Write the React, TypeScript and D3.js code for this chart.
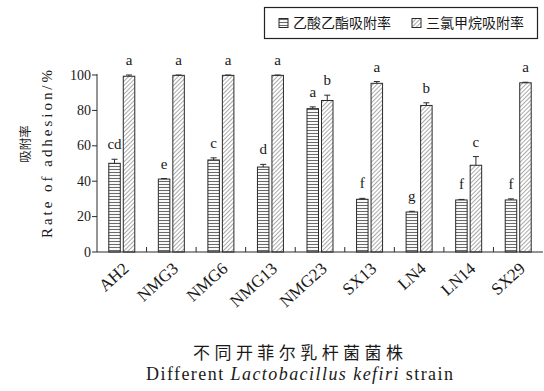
import React from "react";
import * as d3 from "d3";

const strains = ["AH2", "NMG3", "NMG6", "NMG13", "NMG23", "SX13", "LN4", "LN14", "SX29"];
const esterValues = [50.1, 41.2, 52.0, 48.0, 81.0, 29.8, 22.6, 29.4, 29.4];
const esterErrors = [2.3, 0.3, 1.2, 1.5, 1.0, 0.5, 0.4, 0.3, 0.6];
const chloroValues = [99.3, 99.8, 99.8, 99.8, 85.6, 95.3, 82.8, 49.0, 95.6];
const chloroErrors = [0.7, 0.2, 0.2, 0.2, 3.0, 1.0, 1.5, 4.9, 0.3];
const esterLetters = ["cd", "e", "c", "d", "a", "f", "g", "f", "f"];
const chloroLetters = ["a", "a", "a", "a", "b", "a", "b", "c", "a"];
const seriesKeys = ["ester", "chloro"];
const seriesNames = ["乙酸乙酯吸附率", "三氯甲烷吸附率"];
const yTicks = [0, 20, 40, 60, 80, 100];

const W = 544;
const H = 391;
const SERIF = "'Liberation Serif', 'Times New Roman', 'Noto Sans CJK SC', serif";
const CJK = "'Noto Sans CJK SC', sans-serif";

export default function App() {
  const left = 97;
  const right = 543;
  const top = 75;
  const bottom = 252;

  const x = d3.scaleBand<string>().domain(strains).range([left, right]).padding(0);
  const bw = x.bandwidth();
  const x1 = d3
    .scaleBand<string>()
    .domain(seriesKeys)
    .range([bw / 2 - 13, bw / 2 + 13])
    .paddingInner(0.207);
  const y = d3.scaleLinear().domain([0, 100]).range([bottom, top]);

  const series = [
    { key: "ester", values: esterValues, errors: esterErrors, letters: esterLetters, fill: "url(#hstripe)" },
    { key: "chloro", values: chloroValues, errors: chloroErrors, letters: chloroLetters, fill: "url(#dstripe)" },
  ];

  const stroke = "#2a2a2a";
  const barW = x1.bandwidth();

  return (
    <svg width={W} height={H} style={{ position: "absolute", left: 0, top: 0, background: "#fff" }}>
      <defs>
        <pattern id="hstripe" patternUnits="userSpaceOnUse" width={4} height={3}>
          <rect width={4} height={3} fill="#fff" />
          <line x1={0} x2={4} y1={1.5} y2={1.5} stroke="#6a6a6a" strokeWidth={1.1} />
        </pattern>
        <pattern id="dstripe" patternUnits="userSpaceOnUse" width={3} height={3} patternTransform="rotate(45)">
          <rect width={3} height={3} fill="#fff" />
          <line x1={1.5} x2={1.5} y1={0} y2={3} stroke="#a0a0a0" strokeWidth={0.9} />
        </pattern>
      </defs>

      {/* bars */}
      {strains.map((s, i) => (
        <g key={s} transform={`translate(${x(s)},0)`}>
          {series.map((se) => {
            const bx = x1(se.key)!;
            const v = se.values[i];
            const e = se.errors[i];
            const cx = bx + barW / 2;
            return (
              <g key={se.key}>
                <rect x={bx} y={y(v)} width={barW} height={bottom - y(v)} fill={se.fill} stroke={stroke} strokeWidth={1} />
                <line x1={cx} x2={cx} y1={y(v)} y2={y(v + e)} stroke={stroke} strokeWidth={1} />
                <line x1={cx - 3} x2={cx + 3} y1={y(v + e)} y2={y(v + e)} stroke={stroke} strokeWidth={1} />
                <text x={cx} y={y(v + e) - 10} textAnchor="middle" fontFamily={SERIF} fontSize={15} fill="#1a1a1a">
                  {se.letters[i]}
                </text>
              </g>
            );
          })}
        </g>
      ))}

      {/* axes */}
      <line x1={left} x2={left} y1={top - 1} y2={bottom} stroke={stroke} strokeWidth={1} />
      <line x1={left} x2={right} y1={bottom} y2={bottom} stroke={stroke} strokeWidth={1} />
      {yTicks.map((t) => (
        <g key={t}>
          <line x1={left - 5} x2={left} y1={y(t)} y2={y(t)} stroke={stroke} strokeWidth={1} />
          <text x={left - 6} y={y(t) + 4.5} textAnchor="end" fontFamily={SERIF} fontSize={14} fill="#1a1a1a">
            {t}
          </text>
        </g>
      ))}
      {strains.slice(1).map((s) => (
        <line key={s} x1={x(s)!} x2={x(s)!} y1={bottom - 5} y2={bottom} stroke={stroke} strokeWidth={1} />
      ))}
      {strains.map((s) => {
        const ax = x(s)! + bw / 2 + 8;
        const ay = 270;
        return (
          <text
            key={s}
            x={ax}
            y={ay}
            transform={`rotate(-42 ${ax} ${ay})`}
            textAnchor="end"
            fontFamily={SERIF}
            fontSize={17}
            fill="#1a1a1a"
          >
            {s}
          </text>
        );
      })}

      {/* y label */}
      <text
        transform={`translate(30,144) rotate(-90)`}
        textAnchor="middle"
        fontFamily={CJK}
        fontSize={12.5}
        fill="#1a1a1a"
      >
        吸附率
      </text>
      <text
        transform={`translate(52,154) rotate(-90)`}
        textAnchor="middle"
        fontFamily={SERIF}
        fontSize={15}
        fill="#1a1a1a"
        textLength={168}
        lengthAdjust="spacing"
      >
        Rate of adhesion/%
      </text>

      {/* x title */}
      <text x={298} y={359} textAnchor="middle" fontFamily={CJK} fontSize={17} fill="#1a1a1a" textLength={210} lengthAdjust="spacing">
        不同开菲尔乳杆菌菌株
      </text>
      <text x={299.5} y={380} textAnchor="middle" fontFamily={SERIF} fontSize={18} fill="#1a1a1a" textLength={307} lengthAdjust="spacing">
        Different <tspan fontStyle="italic">Lactobacillus</tspan> <tspan fontStyle="italic">kefiri</tspan> strain
      </text>

      {/* legend */}
      <rect x={264.5} y={7.5} width={273} height={31} fill="#fff" stroke="#222" strokeWidth={1.2} />
      {seriesKeys.map((k, i) => {
        const sx = i === 0 ? 279 : 412;
        return (
          <g key={k}>
            <rect x={sx} y={18.5} width={9} height={9} fill={series[i].fill} stroke={stroke} strokeWidth={1} />
            <text x={sx + 14} y={28} fontFamily={CJK} fontSize={14} fill="#1a1a1a">
              {seriesNames[i]}
            </text>
          </g>
        );
      })}
    </svg>
  );
}
